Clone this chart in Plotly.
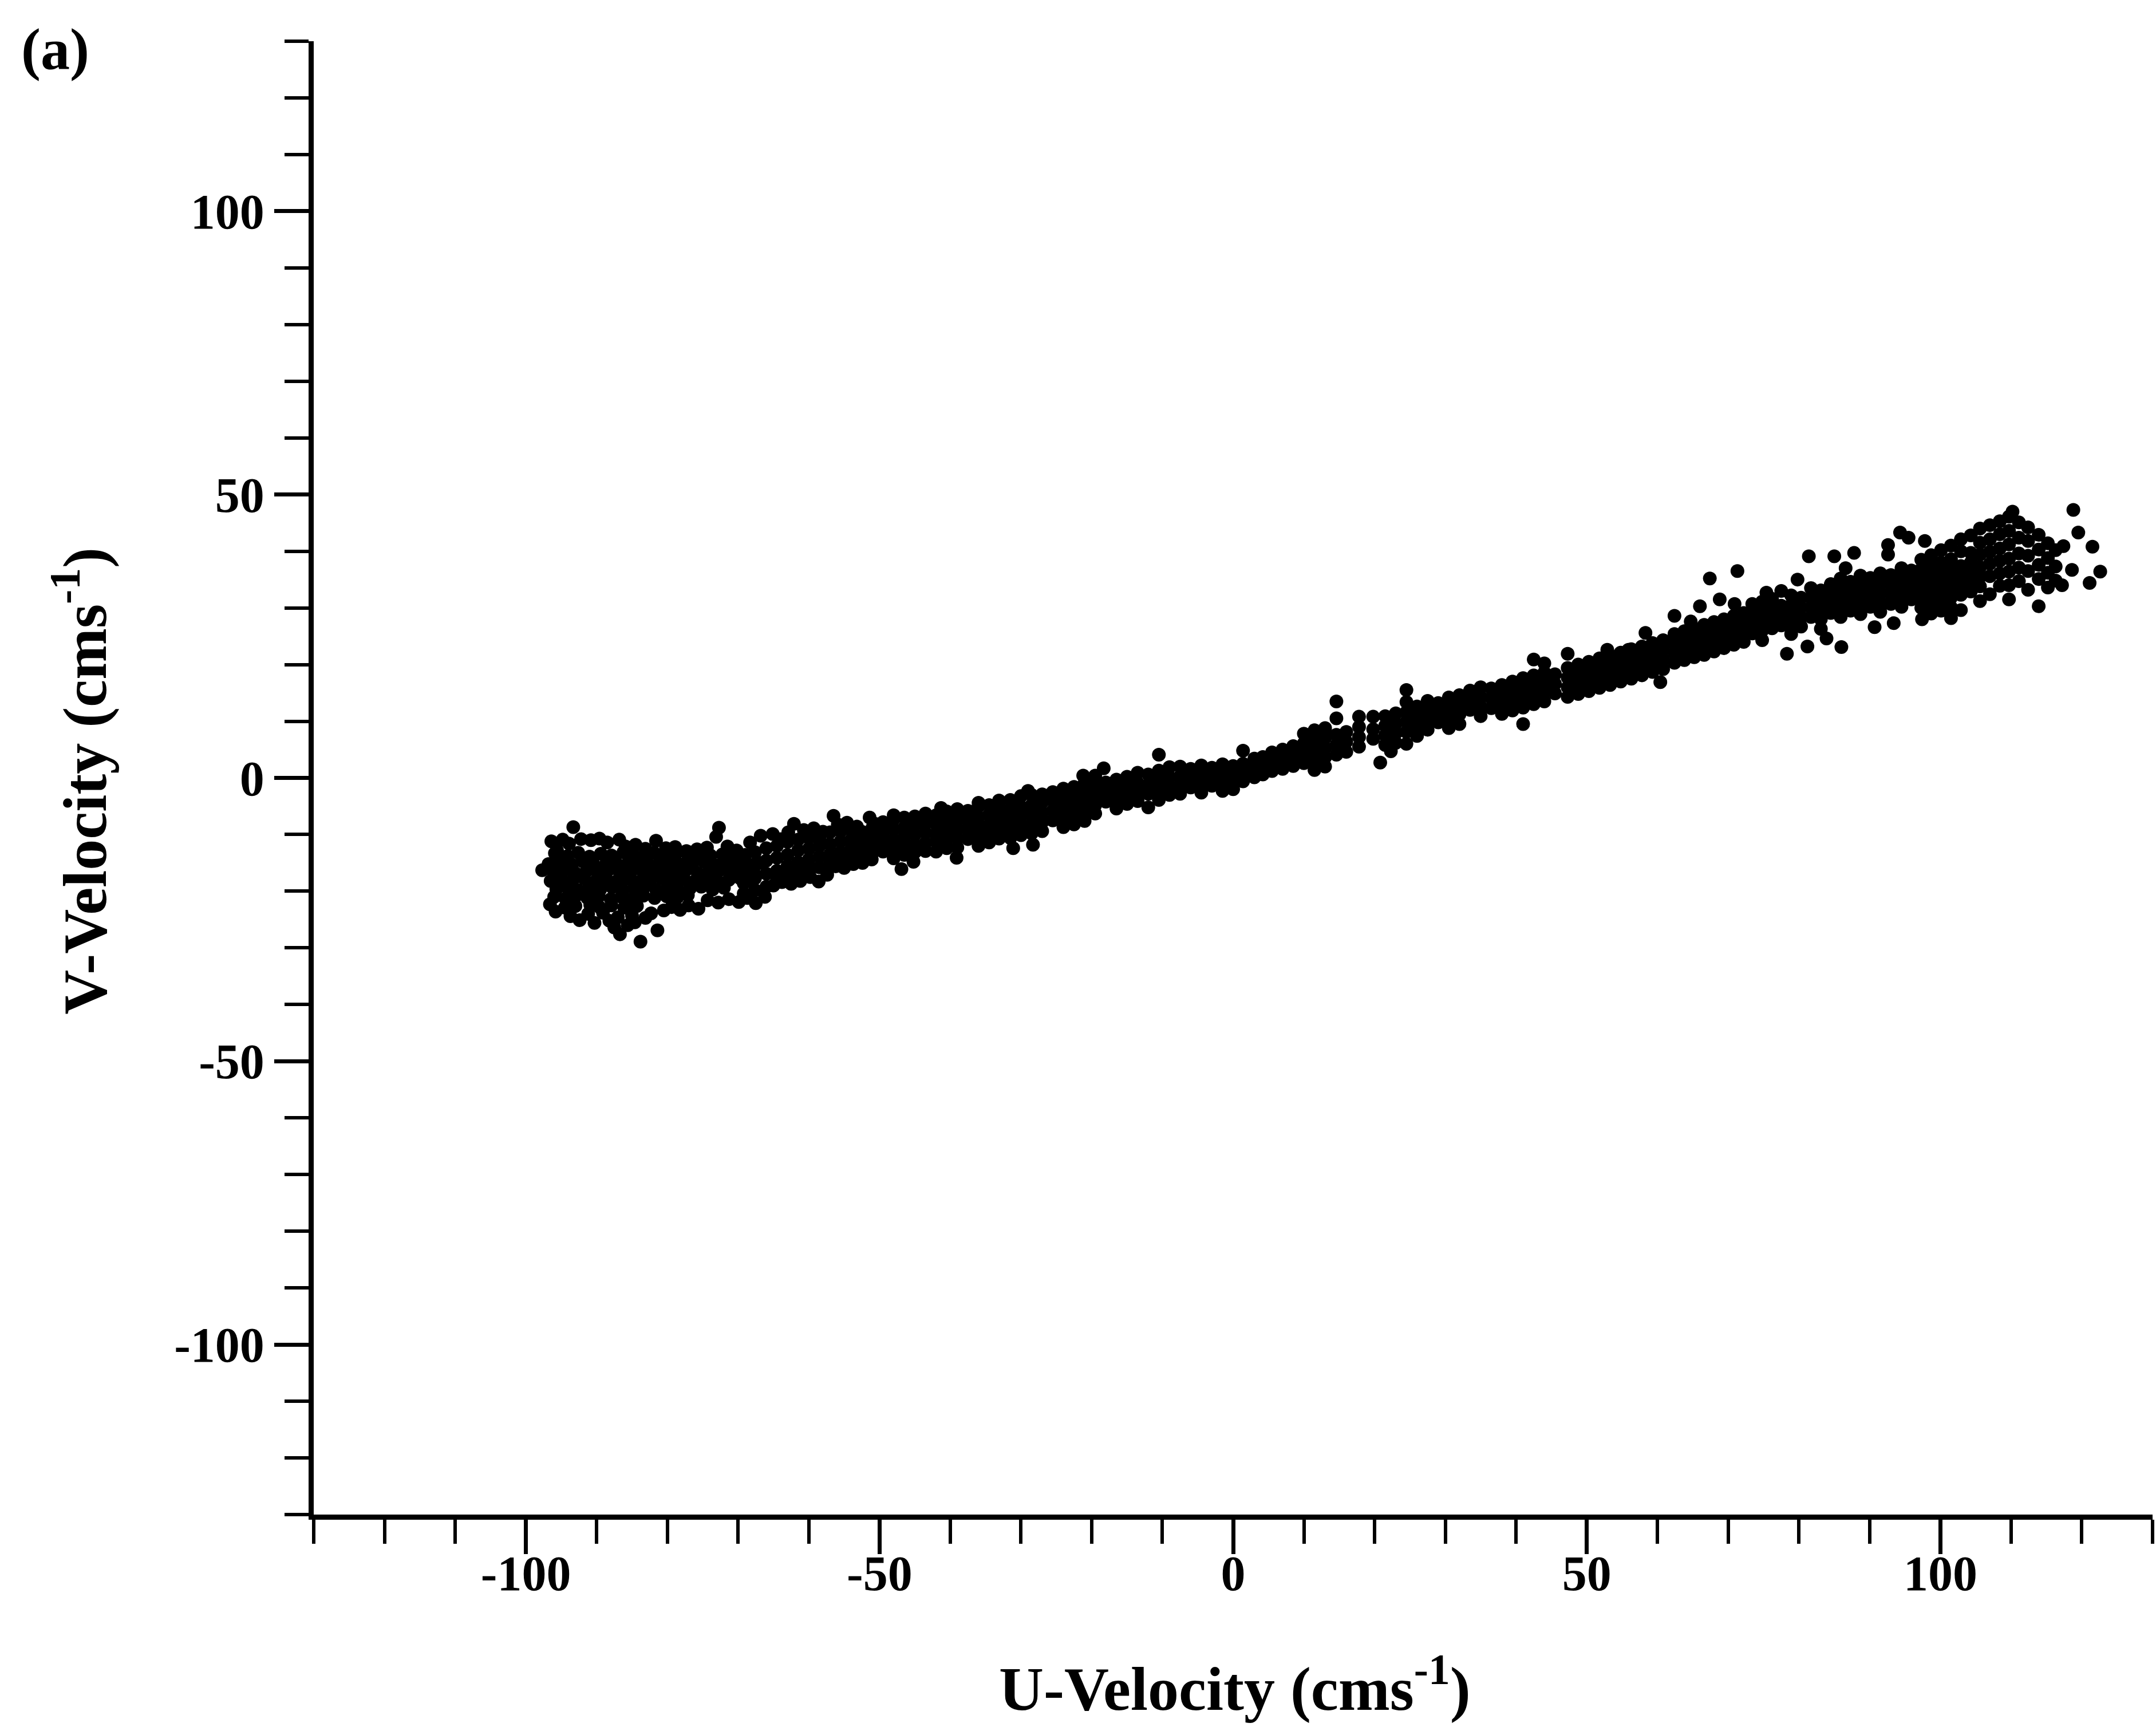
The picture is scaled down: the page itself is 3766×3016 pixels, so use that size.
import plotly.graph_objects as go

# ---- data (U, V velocity pairs, cm/s) ----
west_edge = [
    (-97.7, -16.3), (-93.3, -8.7), (-96.4, -11.2), (-95.6, -12.8), (-94.8, -10.9), (-93.9, -11.6),
    (-92.2, -10.8), (-90.8, -11.0), (-89.6, -10.7), (-88.5, -11.4), (-86.8, -10.9), (-85.9, -12.1),
    (-84.5, -11.8), (-83.1, -12.5), (-81.6, -11.1), (-80.2, -12.4), (-78.9, -12.2), (-77.3, -12.9),
    (-75.8, -12.6), (-74.4, -12.3), (-72.7, -8.8), (-73.1, -10.4), (-71.5, -12.1), (-70.2, -12.8),
    (-96.6, -22.3), (-95.8, -23.6), (-94.5, -22.9), (-93.7, -24.4), (-92.4, -25.1), (-91.2, -24.0),
    (-90.3, -25.6), (-89.1, -23.8), (-88.2, -25.2), (-87.5, -26.4), (-86.7, -27.6), (-85.6, -26.0),
    (-84.6, -25.5), (-83.8, -28.9), (-83.1, -24.7), (-81.4, -26.9), (-82.3, -23.9), (-80.5, -23.4),
    (-79.4, -22.8), (-78.2, -23.3), (-77.0, -22.5), (-75.6, -23.1), (-74.3, -21.6), (-72.8, -22.0),
    (-71.3, -21.4), (-69.9, -21.9), (-68.7, -21.2), (-67.5, -22.1),
]
west_core = [
    (-95.9, -13.3), (-94.1, -13.8), (-92.6, -13.2), (-91.0, -13.9), (-89.4, -13.4), (-87.9, -13.7),
    (-86.2, -13.1), (-84.8, -13.6), (-83.4, -13.9), (-81.9, -13.2), (-80.3, -13.8), (-78.8, -13.4),
    (-77.0, -13.9), (-75.5, -13.3), (-73.9, -13.7), (-72.2, -13.5), (-70.6, -14.0), (-69.0, -13.6),
    (-96.8, -15.2), (-95.2, -14.8), (-93.5, -15.3), (-92.0, -14.7), (-90.5, -15.1), (-88.8, -15.4),
    (-87.3, -14.9), (-85.7, -15.2), (-84.1, -14.8), (-82.6, -15.3), (-81.1, -15.0), (-79.5, -14.7),
    (-78.0, -15.3), (-76.4, -15.0), (-74.8, -14.8), (-73.2, -15.4), (-71.7, -15.1), (-70.1, -14.9),
    (-68.4, -15.3), (-66.9, -15.0),
    (-96.1, -16.7), (-94.6, -16.3), (-93.0, -16.8), (-91.4, -16.4), (-89.9, -16.6), (-88.3, -16.2),
    (-86.7, -16.8), (-85.1, -16.5), (-83.6, -16.3), (-82.0, -16.7), (-80.4, -16.4), (-78.9, -16.6),
    (-77.3, -16.2), (-75.7, -16.8), (-74.1, -16.5), (-72.6, -16.3), (-71.0, -16.7), (-69.4, -16.4),
    (-67.8, -16.6),
    (-96.5, -18.2), (-95.0, -17.8), (-93.4, -18.1), (-91.8, -17.7), (-90.2, -18.3), (-88.6, -17.9),
    (-87.1, -18.2), (-85.5, -17.8), (-83.9, -18.3), (-82.4, -18.0), (-80.8, -17.7), (-79.2, -18.2),
    (-77.6, -17.9), (-76.0, -18.1), (-74.5, -17.8), (-72.9, -18.2), (-71.3, -18.0), (-69.7, -17.7),
    (-68.2, -18.1),
    (-95.7, -19.6), (-94.2, -19.3), (-92.6, -19.8), (-91.1, -19.4), (-89.5, -19.7), (-87.8, -19.3),
    (-86.3, -19.8), (-84.7, -19.5), (-83.2, -19.2), (-81.6, -19.7), (-80.0, -19.4), (-78.5, -19.8),
    (-76.8, -19.5), (-75.2, -19.2), (-73.6, -19.7), (-72.0, -19.4),
    (-96.0, -21.0), (-94.4, -21.3), (-92.9, -20.8), (-91.3, -21.2), (-89.7, -20.9), (-88.0, -21.4),
    (-86.5, -21.0), (-84.9, -21.3), (-83.4, -20.8), (-81.8, -21.2), (-80.1, -20.9), (-78.6, -21.1),
    (-77.1, -20.7),
    (-93.0, -22.6), (-90.9, -22.4), (-89.6, -22.8), (-87.9, -22.5), (-86.1, -22.9), (-84.3, -22.6),
    (-87.0, -24.6), (-85.0, -24.3),
]
southwest = [
    (-68.3, -11.4), (-66.8, -10.2), (-65.1, -9.9), (-64.0, -10.8), (-62.9, -9.6), (-62.1, -8.1),
    (-60.7, -9.2), (-59.3, -8.9), (-58.0, -9.5), (-56.5, -6.7), (-55.9, -8.2), (-54.6, -7.9),
    (-53.2, -8.6), (-51.4, -7.0), (-50.6, -8.1),
    (-66.2, -21.0), (-65.0, -19.0), (-63.8, -18.4), (-62.5, -18.7), (-61.2, -18.2), (-59.8, -17.5),
    (-58.6, -18.3), (-57.4, -17.1), (-56.2, -15.6), (-55.0, -15.9), (-53.7, -15.2), (-52.4, -15.0),
    (-51.1, -14.4), (-57.4, -16.5),
    (-69.2, -13.8), (-69.2, -16.0), (-69.2, -18.6), (-69.2, -20.4),
    (-67.6, -13.1), (-67.6, -15.3), (-67.6, -17.7), (-67.6, -19.8),
    (-66.0, -12.4), (-66.0, -14.6), (-66.0, -16.9), (-66.0, -19.2),
    (-64.5, -12.0), (-64.5, -14.1), (-64.5, -16.4), (-64.5, -17.6),
    (-63.0, -11.3), (-63.0, -13.6), (-63.0, -15.5), (-63.0, -17.2),
    (-61.5, -10.9), (-61.5, -12.8), (-61.5, -14.9), (-61.5, -16.7),
    (-60.0, -10.6), (-60.0, -12.5), (-60.0, -14.4), (-60.0, -16.2),
    (-58.5, -10.8), (-58.5, -12.0), (-58.5, -13.9), (-58.5, -15.8),
    (-57.0, -9.6), (-57.0, -11.7), (-57.0, -13.5), (-57.0, -15.1),
    (-55.5, -9.4), (-55.5, -11.2), (-55.5, -13.1), (-55.5, -14.5),
    (-54.0, -9.2), (-54.0, -10.9), (-54.0, -12.6), (-54.0, -14.1),
    (-52.5, -9.5), (-52.5, -10.5), (-52.5, -12.2), (-52.5, -13.7),
    (-51.0, -8.8), (-51.0, -10.2), (-51.0, -11.8), (-51.0, -13.2),
]
west_mid = [
    (-46.9, -16.1), (-45.2, -14.8), (-39.1, -14.1), (-31.1, -12.4), (-28.3, -11.8), (-33.1, -10.7),
    (-33.1, -4.0), (-29.0, -2.3), (-21.2, 0.4), (-18.3, 1.7), (-41.3, -5.3), (-36.0, -4.4), (-48.0, -6.6),
    (-49.5, -7.8), (-49.5, -9.6), (-49.5, -11.3), (-49.5, -13.0),
    (-48.0, -7.3), (-48.0, -9.1), (-48.0, -10.9), (-48.0, -12.6), (-48.0, -14.2),
    (-46.5, -7.0), (-46.5, -8.8), (-46.5, -10.5), (-46.5, -12.2), (-46.5, -13.6),
    (-45.0, -6.8), (-45.0, -8.3), (-45.0, -10.0), (-45.0, -11.8), (-45.0, -13.1),
    (-43.5, -6.3), (-43.5, -8.0), (-43.5, -9.7), (-43.5, -11.5), (-43.5, -12.9),
    (-42.0, -6.6), (-42.0, -8.2), (-42.0, -9.9), (-42.0, -11.2), (-42.0, -13.0),
    (-40.5, -5.9), (-40.5, -7.6), (-40.5, -9.3), (-40.5, -10.9), (-40.5, -12.4),
    (-39.0, -5.5), (-39.0, -7.2), (-39.0, -8.9), (-39.0, -10.6), (-39.0, -12.3),
    (-37.5, -5.8), (-37.5, -7.5), (-37.5, -9.2), (-37.5, -10.8),
    (-36.0, -5.0), (-36.0, -6.9), (-36.0, -8.6), (-36.0, -10.4), (-36.0, -12.0),
    (-34.5, -4.8), (-34.5, -6.5), (-34.5, -8.3), (-34.5, -9.9), (-34.5, -11.4),
    (-33.0, -5.3), (-33.0, -7.0), (-33.0, -8.7), (-33.0, -9.6),
    (-31.5, -3.9), (-31.5, -5.6), (-31.5, -7.4), (-31.5, -9.0), (-31.5, -10.6),
    (-30.0, -3.2), (-30.0, -5.1), (-30.0, -6.8), (-30.0, -8.5), (-30.0, -10.1),
    (-28.5, -3.0), (-28.5, -4.8), (-28.5, -6.5), (-28.5, -8.2), (-28.5, -9.8),
    (-27.0, -2.9), (-27.0, -4.3), (-27.0, -6.1), (-27.0, -7.8), (-27.0, -9.4),
    (-25.5, -2.5), (-25.5, -4.0), (-25.5, -5.8), (-25.5, -7.5),
    (-24.0, -1.9), (-24.0, -3.6), (-24.0, -5.3), (-24.0, -7.0), (-24.0, -8.7),
    (-22.5, -1.6), (-22.5, -3.2), (-22.5, -4.9), (-22.5, -6.6), (-22.5, -8.2),
    (-21.0, -0.9), (-21.0, -2.7), (-21.0, -4.4), (-21.0, -6.0), (-21.0, -7.6),
]
center = [
    (-19.5, 0.4), (-19.5, -1.4), (-19.5, -3.1), (-19.5, -4.8), (-19.5, -6.3),
    (-18.0, -0.8), (-18.0, -2.6), (-18.0, -4.2),
    (-16.5, -0.3), (-16.5, -2.0), (-16.5, -3.7), (-16.5, -5.4),
    (-15.0, 0.2), (-15.0, -1.6), (-15.0, -3.3), (-15.0, -4.6),
    (-13.5, 0.9), (-13.5, -0.9), (-13.5, -2.6), (-13.5, -4.1),
    (-12.0, 0.6), (-12.0, -1.2), (-12.0, -2.8), (-12.0, -5.2),
    (-10.5, 4.1), (-10.5, 1.3), (-10.5, -0.4), (-10.5, -2.1), (-10.5, -3.9),
    (-9.0, 1.9), (-9.0, 0.1), (-9.0, -1.6), (-9.0, -3.0),
    (-7.5, 2.0), (-7.5, 0.3), (-7.5, -1.3), (-7.5, -2.8),
    (-6.0, 1.6), (-6.0, -0.1), (-6.0, -1.7),
    (-4.5, 2.2), (-4.5, 0.5), (-4.5, -1.1), (-4.5, -2.6),
    (-3.0, 1.8), (-3.0, 0.2), (-3.0, -1.4),
    (-1.5, 2.4), (-1.5, 0.8), (-1.5, -0.8), (-1.5, -2.3),
    (0.0, 2.1), (0.0, 0.4), (0.0, -1.2), (0.0, -2.0),
    (1.4, 4.8), (1.4, 2.5), (1.4, 0.9), (1.4, -0.6),
    (3.0, 3.4), (3.0, 1.7), (3.0, 0.1),
    (4.2, 3.7), (4.2, 2.2), (4.2, 0.6),
]
east_mid = [
    (5.5, 4.5), (5.5, 2.8), (5.5, 1.2), (7.0, 5.0), (7.0, 3.3), (7.0, 1.6),
    (8.5, 5.6), (8.5, 3.9), (8.5, 2.1),
    (10.0, 7.8), (10.0, 6.1), (10.0, 4.3), (10.0, 2.6),
    (11.5, 8.4), (11.5, 6.6), (11.5, 4.8), (11.5, 3.0), (11.5, 1.4),
    (13.0, 8.8), (13.0, 7.1), (13.0, 5.3), (13.0, 3.6), (13.0, 2.0),
    (14.6, 13.5), (14.6, 10.5), (14.6, 7.6), (14.6, 5.8), (14.6, 4.1),
    (16.0, 8.1), (16.0, 6.4), (16.0, 4.6),
    (17.8, 10.8), (17.8, 9.0), (17.8, 7.2), (17.8, 5.5),
    (19.8, 10.8), (19.8, 8.6), (19.8, 6.9), (20.8, 2.7),
    (21.5, 10.9), (21.5, 9.2), (21.5, 7.5), (21.5, 5.8), (22.3, 4.7),
    (23.0, 11.4), (23.0, 9.6), (23.0, 7.9), (23.0, 6.2),
    (24.5, 15.5), (24.5, 13.4), (24.5, 11.6), (24.5, 9.9), (24.5, 8.1), (24.5, 6.0),
    (26.0, 12.6), (26.0, 10.9), (26.0, 9.2), (26.0, 7.4),
    (27.5, 13.6), (27.5, 11.9), (27.5, 10.2), (27.5, 8.5),
    (29.0, 13.2), (29.0, 11.5), (29.0, 9.8),
    (30.5, 14.2), (30.5, 12.4), (30.5, 10.7), (30.5, 8.8),
    (32.0, 14.6), (32.0, 12.9), (32.0, 11.2), (32.0, 9.5),
    (33.5, 15.4), (33.5, 13.7), (33.5, 12.0),
    (35.0, 16.0), (35.0, 14.3), (35.0, 12.6), (35.0, 10.9),
    (36.5, 15.8), (36.5, 14.1), (36.5, 12.3),
    (38.0, 16.4), (38.0, 14.7), (38.0, 13.0), (38.0, 11.3),
    (39.5, 17.0), (39.5, 15.3), (39.5, 13.6), (39.5, 11.9),
    (41.0, 17.6), (41.0, 15.8), (41.0, 14.1), (41.0, 12.4), (41.0, 9.5),
    (42.5, 20.9), (42.5, 18.1), (42.5, 16.4), (42.5, 14.7), (42.5, 13.0),
    (44.0, 20.2), (44.0, 18.6), (44.0, 16.9), (44.0, 15.2), (44.0, 13.5),
    (45.5, 18.3), (45.5, 16.6), (45.5, 14.9),
    (47.3, 21.9), (47.3, 19.4), (47.3, 17.7), (47.3, 16.0), (47.3, 14.3),
    (48.8, 20.0), (48.8, 18.3), (48.8, 16.6), (48.8, 14.8),
    (50.3, 20.5), (50.3, 18.8), (50.3, 17.1), (50.3, 15.3),
    (51.8, 21.1), (51.8, 19.3), (51.8, 17.6), (51.8, 15.9), (52.9, 22.6),
    (53.3, 21.6), (53.3, 19.9), (53.3, 18.1), (53.3, 16.4),
    (54.8, 22.1), (54.8, 20.4), (54.8, 18.7), (54.8, 17.0), (55.9, 22.6),
    (56.3, 22.7), (56.3, 21.0), (56.3, 19.2), (56.3, 17.5),
    (57.8, 23.2), (57.8, 21.5), (57.8, 19.8), (57.8, 18.1), (58.3, 25.6),
    (59.3, 23.8), (59.3, 22.1), (59.3, 20.4), (59.3, 18.7), (60.4, 16.9),
    (60.8, 24.3), (60.8, 22.6), (60.8, 20.9), (60.8, 19.2),
]
east = [
    (62.4, 28.6), (62.4, 25.4), (62.4, 23.7), (62.4, 22.0), (62.4, 20.3),
    (63.8, 25.9), (63.8, 24.2), (63.8, 22.5), (63.8, 20.8), (64.7, 27.6),
    (65.2, 26.4), (65.2, 24.7), (65.2, 23.0), (65.2, 21.3), (66.0, 30.3),
    (66.6, 27.0), (66.6, 25.3), (66.6, 23.6), (66.6, 21.7), (67.4, 35.2),
    (68.0, 27.5), (68.0, 25.8), (68.0, 24.1), (68.0, 22.3), (68.8, 31.5),
    (69.4, 28.0), (69.4, 26.3), (69.4, 24.6), (69.4, 22.9), (70.9, 30.7),
    (70.8, 28.6), (70.8, 26.9), (70.8, 25.2), (70.8, 23.5), (71.3, 36.5),
    (72.2, 29.1), (72.2, 27.4), (72.2, 25.7), (72.2, 24.0),
    (73.4, 30.7), (73.4, 28.9), (73.4, 27.2), (73.4, 25.5), (74.4, 29.0),
    (74.8, 31.1), (74.8, 29.4), (74.8, 27.7), (74.8, 26.0), (74.8, 24.3), (75.4, 32.7),
    (76.2, 31.6), (76.2, 29.9), (76.2, 28.1), (76.2, 26.4),
    (77.5, 33.0), (77.5, 30.4), (77.5, 28.7), (77.5, 26.9), (78.3, 21.9),
    (78.9, 32.2), (78.9, 30.5), (78.9, 28.8), (78.9, 27.1), (78.9, 25.4), (79.8, 35.0),
    (80.3, 31.8), (80.3, 30.1), (80.3, 28.4), (80.3, 26.7), (81.2, 23.2), (81.4, 39.1),
    (81.7, 33.5), (81.7, 31.8), (81.7, 30.1), (81.7, 28.4),
    (83.1, 33.1), (83.1, 31.4), (83.1, 29.7), (83.1, 28.0), (83.1, 26.3), (83.9, 24.6),
    (84.5, 34.2), (84.5, 32.5), (84.5, 30.8), (84.5, 29.1), (85.0, 39.1),
    (85.9, 35.2), (85.9, 33.5), (85.9, 31.8), (85.9, 30.1), (85.9, 28.4), (86.0, 23.1), (86.6, 37.0),
    (87.3, 34.6), (87.3, 32.9), (87.3, 31.2), (87.3, 29.5), (87.8, 39.7),
    (88.7, 35.7), (88.7, 34.0), (88.7, 32.3), (88.7, 30.6), (88.7, 28.9),
    (90.1, 35.3), (90.1, 33.6), (90.1, 31.9), (90.1, 30.2), (90.7, 26.6),
    (91.5, 36.1), (91.5, 34.4), (91.5, 32.7), (91.5, 31.0), (91.5, 29.3),
    (92.6, 41.1), (92.6, 39.4),
    (93.0, 35.8), (93.0, 34.1), (93.0, 32.4), (93.0, 30.7), (93.4, 27.3), (94.3, 43.3),
    (94.5, 37.0), (94.5, 35.3), (94.5, 33.6), (94.5, 31.9), (94.5, 30.2), (95.5, 42.4),
    (95.9, 36.6), (95.9, 34.9), (95.9, 33.2), (95.9, 31.5),
    (97.4, 28.0), (97.3, 38.5), (97.3, 36.8), (97.3, 35.1), (97.3, 33.4), (97.3, 31.7), (97.3, 30.0),
    (97.8, 41.8),
]
far_east = [
    (98.7, 39.3), (98.7, 37.5), (98.7, 35.8), (98.7, 34.1), (98.7, 32.4), (98.7, 30.7), (98.7, 29.0),
    (100.1, 40.2), (100.1, 38.0), (100.1, 36.3), (100.1, 34.6), (100.1, 32.9), (100.1, 31.2), (100.1, 29.5),
    (101.5, 41.0), (101.5, 38.6), (101.5, 36.9), (101.5, 35.2), (101.5, 33.5), (101.5, 31.8), (101.5, 30.1),
    (101.5, 28.2),
    (102.9, 42.1), (102.9, 40.0), (102.9, 37.4), (102.9, 35.7), (102.9, 34.0), (102.9, 32.3), (102.9, 29.6),
    (104.3, 42.8), (104.3, 39.7), (104.3, 38.0), (104.3, 36.3), (104.3, 34.6), (104.3, 32.9),
    (105.6, 44.0), (105.6, 41.5), (105.6, 39.4), (105.6, 37.2), (105.6, 35.5), (105.6, 33.8), (105.6, 31.2),
    (107.0, 44.6), (107.0, 42.1), (107.0, 39.9), (107.0, 37.8), (107.0, 35.6), (107.0, 32.4),
    (108.4, 45.3), (108.4, 43.0), (108.4, 40.5), (108.4, 38.3), (108.4, 36.1), (108.4, 33.9),
    (109.7, 46.1), (109.7, 43.6), (109.7, 41.2), (109.7, 38.7), (109.7, 36.4), (109.7, 34.0), (109.7, 31.5),
    (110.2, 47.0),
    (111.1, 45.1), (111.1, 42.4), (111.1, 39.6), (111.1, 37.1), (111.1, 34.7),
    (112.4, 44.2), (112.4, 41.8), (112.4, 39.2), (112.4, 36.5), (112.4, 33.2),
    (113.9, 42.9), (113.9, 40.3), (113.9, 37.6), (113.9, 35.1), (113.9, 30.3),
    (115.2, 41.4), (115.2, 38.8), (115.2, 36.2), (115.2, 33.6),
    (116.3, 40.2), (116.3, 37.3), (116.3, 34.8),
    (117.2, 34.0), (117.4, 40.9), (118.6, 36.7), (118.8, 47.3), (119.5, 43.3),
    (121.1, 34.4), (121.5, 40.8), (122.6, 36.4),
]

x_tick_values = [-100, -50, 0, 50, 100]
x_tick_labels = ["-100", "-50", "0", "50", "100"]
y_tick_values = [-100, -50, 0, 50, 100]
y_tick_labels = ["-100", "-50", "0", "50", "100"]
minor_tick_values = [v for v in range(-130, 131, 10) if v % 50 != 0]

segments = [west_edge, west_core, southwest, west_mid, center, east_mid, east, far_east]
u_vel = [p[0] for seg in segments for p in seg]
v_vel = [p[1] for seg in segments for p in seg]

FONT = "Liberation Serif"

fig = go.Figure()
fig.add_trace(go.Scatter(
    x=u_vel, y=v_vel, mode="markers",
    marker=dict(color="black", size=24, line=dict(width=0)),
    showlegend=False, hoverinfo="skip",
))

axis_common = dict(
    showgrid=False, zeroline=False, showline=True, linecolor="black", linewidth=9,
    ticks="outside", ticklen=60, tickwidth=7, tickcolor="black",
    tickfont=dict(family=FONT, size=86, color="black", weight="bold"),
    tickmode="array",
    minor=dict(tickmode="array", tickvals=minor_tick_values, ticks="outside",
               ticklen=42, tickwidth=6, tickcolor="black", showgrid=False),
)
fig.update_xaxes(range=[-130, 130], tickvals=x_tick_values, ticktext=x_tick_labels,
                 ticklabelstandoff=-40, **axis_common)
fig.update_yaxes(range=[-130, 130], tickvals=y_tick_values, ticktext=y_tick_labels, **axis_common)

fig.add_annotation(text="U-Velocity (cms<sup>-1</sup>)", xref="paper", yref="paper",
                   x=0.501, y=-0.1154, xanchor="center", yanchor="middle", showarrow=False,
                   font=dict(family=FONT, size=108, color="black", weight="bold"))
fig.add_annotation(text="V-Velocity (cms<sup>-1</sup>)", xref="paper", yref="paper",
                   x=-0.127, y=0.498, xanchor="center", yanchor="middle", showarrow=False,
                   textangle=-90,
                   font=dict(family=FONT, size=108, color="black", weight="bold"))
fig.add_annotation(text="(a)", xref="paper", yref="paper",
                   x=-0.1407, y=0.9946, xanchor="center", yanchor="middle", showarrow=False,
                   font=dict(family=FONT, size=102, color="black", weight="bold"))

fig.update_layout(
    width=3766, height=3016,
    margin=dict(l=548, r=6, t=72, b=371, autoexpand=False),
    paper_bgcolor="white", plot_bgcolor="white",
)

fig.write_html("out.html")
